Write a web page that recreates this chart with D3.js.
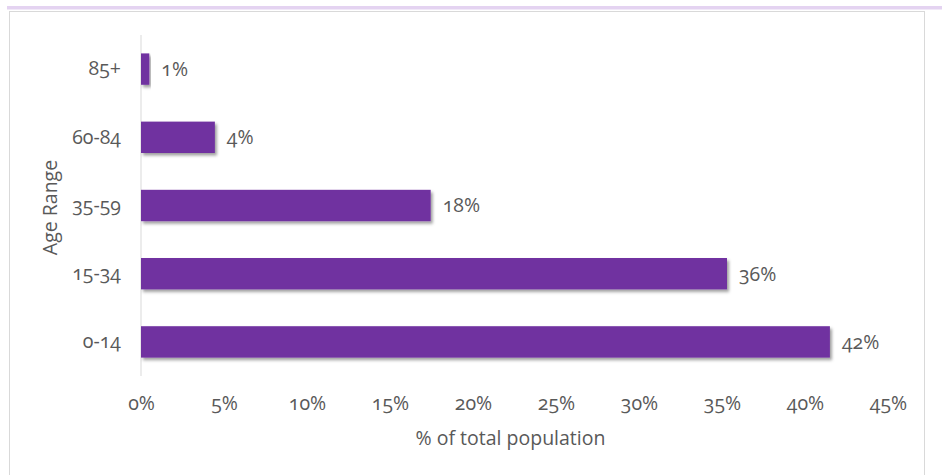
<!DOCTYPE html>
<html>
<head>
<meta charset="utf-8">
<script src="https://cdn.jsdelivr.net/npm/d3@7"></script>
<style>
  body { margin: 0; background: #fff; }
  svg { display: block; }
  svg text { font-family: "Open Sans", "Noto Sans", sans-serif; font-variant-numeric: oldstyle-nums; }
</style>
</head>
<body>
<div id="general"></div>
<script>
const w = 942, h = 475;

// data
const ageRanges = ["85+", "60-84", "35-59", "15-34", "0-14"];
const shares = [0.5, 4.45, 17.45, 35.3, 41.5];
const shareLabels = ["1%", "4%", "18%", "36%", "42%"];
const xTicks = [0, 5, 10, 15, 20, 25, 30, 35, 40, 45];

const colmain = "#7030a0";
const coltext = "#595959";
const fs = 19.5;

const m = {l: 141, r: 888, t: 35, b: 376};

const svg = d3.select("#general").append("svg")
  .attr("width", w).attr("height", h)
  .attr("viewBox", `0 0 ${w} ${h}`);

const defs = svg.append("defs");
defs.append("filter").attr("id", "shadow")
  .attr("x", "-10%").attr("y", "-30%").attr("width", "130%").attr("height", "180%")
  .append("feDropShadow")
    .attr("dx", 2).attr("dy", 2.5).attr("stdDeviation", 1.6)
    .attr("flood-color", "#000").attr("flood-opacity", 0.38);

// page heading, nearly all of it above the top edge
svg.append("text")
  .attr("x", 34)
  .attr("y", -6.5)
  .attr("fill", "#7f3fbf")
  .attr("font-size", 22)
  .attr("font-weight", "bold")
  .text("Demographic Profile: Age Group");

svg.append("rect")
  .attr("x", 7).attr("y", 6)
  .attr("width", w - 7).attr("height", 3.5)
  .attr("fill", "#e4d3f1");

// chart frame
svg.append("rect")
  .attr("x", 9.5).attr("y", 11.5)
  .attr("width", 915).attr("height", 480)
  .attr("fill", "#fff")
  .attr("stroke", "#d9d9d9");

const x = d3.scaleLinear().domain([0, 45]).range([m.l, m.r]);
const y = d3.scaleBand().domain(ageRanges).range([m.t, m.b]).paddingInner(0.54).paddingOuter(0.27);

// vertical axis line
svg.append("line")
  .attr("x1", x(0)).attr("x2", x(0))
  .attr("y1", m.t).attr("y2", m.b)
  .attr("stroke", "#d9d9d9");

const data = ageRanges.map((a, i) => ({age: a, v: shares[i], label: shareLabels[i]}));

svg.append("g")
  .selectAll("rect")
  .data(data)
  .join("rect")
    .attr("x", x(0))
    .attr("y", d => y(d.age))
    .attr("width", d => x(d.v) - x(0))
    .attr("height", y.bandwidth())
    .attr("fill", colmain)
    .attr("filter", "url(#shadow)");

svg.append("g")
  .selectAll("text")
  .data(data)
  .join("text")
    .attr("x", d => x(d.v) + 12)
    .attr("y", d => y(d.age) + y.bandwidth() / 2)
    .attr("dy", "0.35em")
    .attr("fill", coltext)
    .attr("font-size", fs)
    .text(d => d.label);

// category labels
const yAxis = svg.append("g")
  .attr("transform", `translate(${x(0) - 20},0)`)
  .call(d3.axisLeft(y).tickSize(0).tickPadding(0));
yAxis.select(".domain").remove();
yAxis.selectAll("text")
  .attr("fill", coltext)
  .attr("font-size", fs);

// percentage ticks
const xAxis = svg.append("g")
  .attr("transform", `translate(0,${m.b + 20})`)
  .call(d3.axisBottom(x).tickValues(xTicks).tickSize(0).tickPadding(0).tickFormat(d => d + "%"));
xAxis.select(".domain").remove();
xAxis.selectAll("text")
  .attr("fill", coltext)
  .attr("font-size", fs);

svg.append("text")
  .attr("x", (m.l + m.r) / 2 - 4)
  .attr("y", 438)
  .attr("dy", "0.35em")
  .attr("text-anchor", "middle")
  .attr("fill", coltext)
  .attr("font-size", fs)
  .text("% of total population");

svg.append("text")
  .attr("transform", `translate(50,${(m.t + m.b) / 2 + 2}) rotate(-90)`)
  .attr("dy", "0.35em")
  .attr("text-anchor", "middle")
  .attr("fill", coltext)
  .attr("font-size", fs)
  .text("Age Range");
</script>
</body>
</html>
